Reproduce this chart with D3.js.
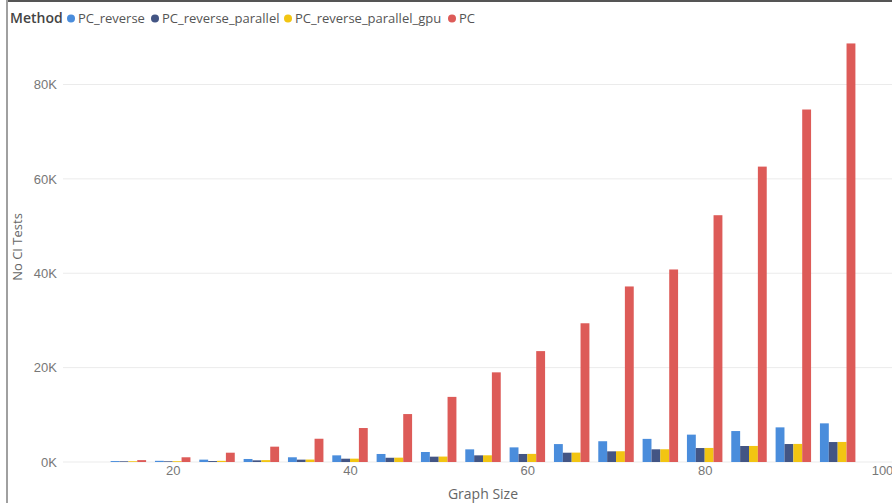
<!DOCTYPE html>
<html>
<head>
<meta charset="utf-8">
<script src="https://cdn.jsdelivr.net/npm/d3@7"></script>
<style>
html,body{margin:0;padding:0;background:#fff;}
svg{display:block;font-family:"Segoe UI","Open Sans","Noto Sans",sans-serif;}
</style>
</head>
<body>
<svg id="chart" width="892" height="503"></svg>
<script>
const graphSizes = [15,20,25,30,35,40,45,50,55,60,65,70,75,80,85,90,95];
const pcReverse = [200,250,500,640,1000,1410,1700,2120,2680,3100,3800,4400,4900,5800,6560,7340,8190];
const pcReverseParallel = [150,150,200,350,500,700,900,1130,1410,1700,1970,2260,2690,2960,3390,3810,4230];
const pcReverseParallelGpu = [160,170,250,400,520,710,920,1150,1420,1720,1990,2280,2700,2980,3400,3830,4250];
const pc = [400,1000,1970,3250,4930,7200,10160,13800,19000,23500,29400,37200,40800,52300,62600,74700,88700];
const seriesNames = ["PC_reverse","PC_reverse_parallel","PC_reverse_parallel_gpu","PC"];
const seriesColors = ["#4a8ddc","#435584","#f2c512","#dd5b58"];
const xTicks = [20,40,60,80,100];
const yTicks = [0,20000,40000,60000,80000];

const series = [pcReverse, pcReverseParallel, pcReverseParallelGpu, pc];
const svg = d3.select("#chart");

// frame
svg.append("line").attr("x1",7).attr("x2",892).attr("y1",1).attr("y2",1).attr("stroke","#555").attr("stroke-width",2);
svg.append("line").attr("x1",7).attr("x2",7).attr("y1",0).attr("y2",503).attr("stroke","#a0a0a0").attr("stroke-width",2);

const x = d3.scaleLinear().domain([20,100]).range([172.7,882]);
const y = d3.scaleLinear().domain([0,80000]).range([462,84.5]);

// gridlines
svg.append("g").selectAll("line").data(yTicks).join("line")
  .attr("x1",63).attr("x2",892)
  .attr("y1",d=>y(d)).attr("y2",d=>y(d))
  .attr("stroke","#ebebeb").attr("stroke-width",1);

// y axis labels
const yAxis = d3.axisLeft(y).tickValues(yTicks).tickSize(0).tickPadding(0)
  .tickFormat(d=>d3.format("d")(d/1000)+"K");
const gy = svg.append("g").attr("transform","translate(57,0)").call(yAxis);
gy.select(".domain").remove();
gy.selectAll("text").attr("fill","#777").style("font-size","13px").style("font-family","inherit");

// x axis labels
const xAxis = d3.axisBottom(x).tickValues(xTicks).tickSize(0).tickPadding(0);
const gx = svg.append("g").attr("transform","translate(0,466)").call(xAxis);
gx.select(".domain").remove();
gx.selectAll("text").attr("fill","#777").style("font-size","13px").style("font-family","inherit");

// bars
const step = x(graphSizes[1]) - x(graphSizes[0]);
const bw = step * 0.2;
const gBars = svg.append("g");
series.forEach((vals,si)=>{
  gBars.append("g").selectAll("rect").data(vals).join("rect")
    .attr("x",(d,i)=>x(graphSizes[i]) - 2*bw + si*bw)
    .attr("width",bw)
    .attr("y",d=>y(d))
    .attr("height",d=>y(0)-y(d))
    .attr("fill",seriesColors[si]);
});

// axis titles
svg.append("text").attr("x",483).attr("y",499).attr("text-anchor","middle")
  .attr("fill","#666").style("font-size","14px").text("Graph Size");
svg.append("text").attr("transform","translate(22,247) rotate(-90)").attr("text-anchor","middle")
  .attr("fill","#666").style("font-size","13px").text("No CI Tests");

// legend
const clip = svg.append("clipPath").attr("id","legclip").append("rect")
  .attr("x",0).attr("y",0).attr("width",478).attr("height",40);
const leg = svg.append("g").attr("clip-path","url(#legclip)");
leg.append("text").attr("x",10).attr("y",23).attr("fill","#444")
  .style("font-size","14px").style("font-weight","600").text("Method");
const legX = [71,155,288,452];
seriesNames.forEach((n,i)=>{
  leg.append("circle").attr("cx",legX[i]).attr("cy",18.5).attr("r",4).attr("fill",seriesColors[i]);
  leg.append("text").attr("x",legX[i]+7).attr("y",23).attr("fill","#555")
    .style("font-size","13px").text(n);
});
</script>
</body>
</html>
